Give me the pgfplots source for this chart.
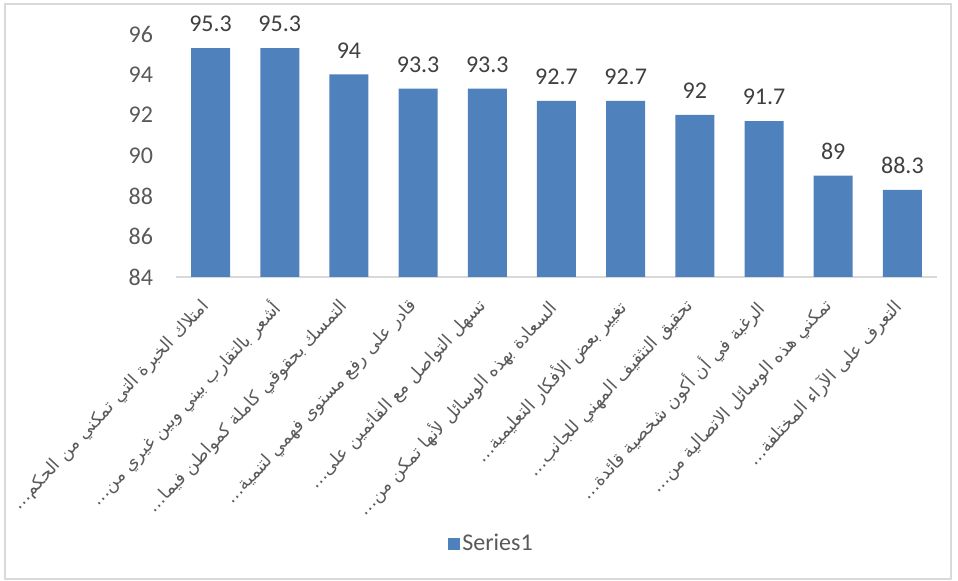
\documentclass[border=0pt]{standalone}
\usepackage{pgfplots}
\pgfplotsset{compat=1.18}
\usepackage{fontspec}
\setmainfont{Carlito}
\newfontfamily\arabicfont[Script=Arabic]{DejaVu Sans}
\TeXXeTstate=1
\definecolor{barblue}{HTML}{4F81BD}
\definecolor{txtgray}{HTML}{595959}
\definecolor{lblgray}{HTML}{404040}
\definecolor{linegray}{HTML}{D9D9D9}
\definecolor{framegray}{HTML}{D9D9D9}
\begin{document}
\begin{tikzpicture}
\begin{axis}[
  at={(0pt,0pt)}, anchor=south west,
  scale only axis, width=570.75pt, height=182.25pt,
  /pgf/number format/assume math mode=true,
  xmin=-0.5, xmax=10.5, ymin=84, ymax=96,
  ytick={84,86,...,96},
  xtick={0,...,10},
  xticklabels={
    {\arabicfont\beginR امتلاك الخبرة التي تمكني من الحكم…\endR},
    {\arabicfont\beginR أشعر بالتقارب بيني وبين غيري من…\endR},
    {\arabicfont\beginR التمسك بحقوقي كاملة كمواطن فيما…\endR},
    {\arabicfont\beginR قادر على رفع مستوى فهمي لتنمية…\endR},
    {\arabicfont\beginR تسهل التواصل مع القائمين على…\endR},
    {\arabicfont\beginR السعادة بهذه الوسائل لأنها تمكن من…\endR},
    {\arabicfont\beginR تغيير بعض الأفكار التعليمية…\endR},
    {\arabicfont\beginR تحقيق التثقيف المهني للجانب…\endR},
    {\arabicfont\beginR الرغبة في أن أكون شخصية قائدة…\endR},
    {\arabicfont\beginR تمكني هذه الوسائل الاتصالية من…\endR},
    {\arabicfont\beginR التعرف على الآراء المختلفة…\endR}},
  xticklabel style={xshift=-8pt, yshift=-15pt, rotate=47, anchor=north east, inner sep=0pt,
    font=\fontsize{13.3}{15}\selectfont, text=txtgray},
  yticklabel style={anchor=east, inner sep=0pt, xshift=-17pt,
    font=\fontsize{18}{20}\selectfont, text=txtgray},
  axis x line*=bottom, axis y line*=left,
  x axis line style={-, draw=linegray, line width=1.3pt},
  y axis line style={draw=none},
  major tick length=0pt,
  ybar, bar width=29.25pt,
  clip=false,
  nodes near coords,
  nodes near coords style={anchor=south, inner sep=0pt, yshift=12pt,
    font=\fontsize{18}{20}\selectfont, text=lblgray},
  legend style={at={(0.4146,-1.097)}, anchor=center, draw=none, fill=none,
    font=\fontsize{18}{20}\selectfont, text=txtgray},
  legend image code/.code={\fill[barblue] (0pt,-4.5pt) rectangle (9pt,4.5pt);},
]
\addplot[fill=barblue, draw=none] coordinates {
  (0,95.3) (1,95.3) (2,94) (3,93.3) (4,93.3) (5,92.7)
  (6,92.7) (7,92) (8,91.7) (9,89) (10,88.3)};
\addlegendentry{Series1}
\end{axis}
\draw[framegray, line width=1.1pt] (-128.25pt,-226.5pt) rectangle (581.25pt,204.75pt);
\pgfresetboundingbox
\useasboundingbox (-132pt,-228pt) rectangle (586.5pt,207.75pt);
\end{tikzpicture}
\end{document}
